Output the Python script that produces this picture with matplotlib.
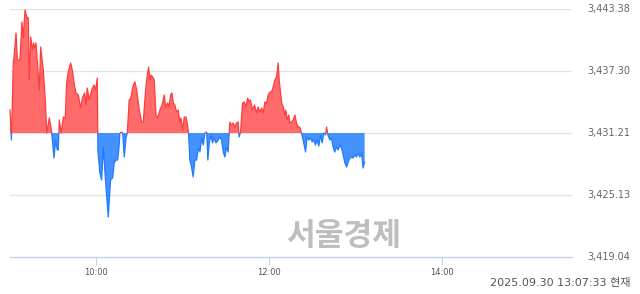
import numpy as np
import matplotlib
matplotlib.use("Agg")
import matplotlib.pyplot as plt
from matplotlib.patches import Rectangle

# previous close (baseline) and axis ticks
prev_close = 3431.21
y_ticks = [3419.04, 3425.13, 3431.21, 3437.30, 3443.38]
y_labels = ["3,419.04", "3,425.13", "3,431.21", "3,437.30", "3,443.38"]
x_ticks = [60, 180, 300]   # minutes after 09:00
x_labels = ["10:00", "12:00", "14:00"]
stamp = "2025.09.30 13:07:33 현재"

# intraday index, minutes after 09:00
minutes = [
    0, 1.0, 2.3, 2.8, 4.2, 5.1, 6.9, 8.3, 9.2, 10.4, 11.6, 12.7, 13.4, 14.4, 15.5, 16.4,
    17.1, 18.0, 18.9, 20.3, 21.3, 23.1, 24.5, 25.5, 27.3, 28.9, 30.5, 31.7, 32.8, 33.5,
    34.2, 35.6, 37.0, 38.4, 39.3, 40.4, 42.1, 43.5, 44.4, 45.8, 47.4, 49.0, 50.4, 51.8,
    52.7, 53.6, 55.0, 56.7, 58.3, 59.4, 60.6, 61.0, 62.4, 63.6, 64.7, 66.6, 68.2, 69.8,
    71.2, 72.3, 73.5, 74.7, 75.6, 76.3, 77.5, 78.2, 79.3, 80.5, 81.4, 82.7, 83.9, 85.5,
    86.7, 87.9, 89.7, 91.3, 92.5, 93.6, 94.8, 96.2, 97.1, 98.0, 99.4, 100.1, 101.3, 102.5,
    104.0, 105.6, 107.0, 108.0, 109.4, 110.3, 111.5, 112.4, 113.3, 114.4, 115.6, 116.7,
    117.9, 118.6, 119.8, 120.9, 122.1, 123.0, 123.9, 124.8, 126.0, 127.1, 128.3, 129.5,
    130.6, 131.8, 133.0, 134.1, 135.3, 136.5, 137.3, 138.3, 139.4, 140.6, 141.5, 142.9,
    144.5, 145.7, 146.8, 148.0, 149.1, 150.3, 151.4, 152.1, 152.6, 153.7, 154.9, 156.1,
    157.2, 158.3, 159.0, 160.0, 161.4, 162.5, 163.7, 164.9, 166.0, 166.9, 168.3, 169.7,
    171.1, 172.2, 173.4, 174.6, 175.7, 176.9, 178.0, 179.2, 180.3, 181.5, 182.6, 183.8,
    185.0, 186.1, 186.8, 187.8, 188.5, 189.6, 190.7, 191.4, 192.3, 193.5, 194.2, 195.4,
    196.5, 197.7, 198.8, 200.0, 201.1, 202.3, 203.4, 205.1, 206.2, 207.4, 208.6, 209.7,
    210.9, 212.0, 213.1, 214.3, 215.5, 216.6, 217.8, 219.0, 219.7, 220.6, 222.0, 223.1,
    224.2, 225.4, 226.6, 227.7, 228.9, 230.1, 231.2, 232.4, 233.6, 234.7, 235.8, 237.0,
    238.1, 239.3, 240.5, 241.6, 242.8, 244.0, 245.0, 246.1,
]
index = [
    3433.47, 3430.52, 3438.20, 3438.69, 3441.05, 3438.39, 3438.39, 3442.13, 3440.56, 3443.31,
    3442.62, 3442.53, 3436.43, 3440.66, 3439.38, 3440.07, 3439.57, 3440.07, 3438.39, 3435.44,
    3439.67, 3437.41, 3434.46, 3431.21, 3432.69, 3431.31, 3428.75, 3430.52, 3429.54, 3429.54,
    3432.49, 3431.21, 3432.78, 3432.69, 3436.13, 3437.21, 3438.10, 3437.21, 3436.13, 3435.15,
    3434.95, 3433.67, 3434.75, 3435.15, 3433.97, 3435.64, 3434.46, 3435.44, 3435.93, 3435.44,
    3436.62, 3429.50, 3427.27, 3426.59, 3429.83, 3425.90, 3422.94, 3426.59, 3426.78, 3428.26,
    3428.55, 3428.55, 3429.73, 3431.21, 3431.31, 3431.21, 3428.85, 3430.72, 3431.21, 3434.46,
    3434.65, 3435.93, 3436.23, 3435.44, 3433.47, 3432.29, 3432.29, 3434.46, 3436.43, 3437.70,
    3436.43, 3436.92, 3436.62, 3436.43, 3432.98, 3432.69, 3433.47, 3433.97, 3434.95, 3433.77,
    3434.16, 3433.77, 3434.95, 3435.15, 3434.16, 3433.97, 3433.28, 3433.47, 3432.19, 3432.69,
    3431.51, 3432.78, 3432.78, 3432.19, 3431.21, 3428.55, 3427.86, 3426.88, 3428.55, 3428.55,
    3429.73, 3429.34, 3430.72, 3430.03, 3431.21, 3431.31, 3428.55, 3430.23, 3431.01, 3430.23,
    3430.72, 3430.23, 3430.52, 3430.82, 3430.52, 3429.34, 3428.85, 3429.83, 3429.34, 3431.21,
    3432.29, 3432.00, 3432.19, 3431.80, 3432.19, 3432.29, 3430.82, 3431.31, 3434.16, 3434.26,
    3433.77, 3434.65, 3434.26, 3434.46, 3433.47, 3433.97, 3433.18, 3433.77, 3433.28, 3433.67,
    3433.18, 3434.26, 3434.16, 3434.95, 3435.24, 3435.24, 3435.74, 3436.43, 3436.72, 3438.10,
    3436.43, 3435.15, 3434.16, 3433.77, 3432.98, 3433.47, 3432.49, 3432.98, 3432.19, 3432.29,
    3432.49, 3432.98, 3432.19, 3431.80, 3431.80, 3431.21, 3430.52, 3429.34, 3430.82, 3430.52,
    3430.72, 3430.32, 3430.52, 3430.03, 3430.52, 3429.93, 3431.01, 3430.23, 3431.21, 3431.01,
    3431.80, 3431.01, 3430.52, 3430.72, 3429.83, 3429.34, 3429.83, 3429.54, 3430.03, 3429.73,
    3429.05, 3428.26, 3427.86, 3428.36, 3428.75, 3428.85, 3428.75, 3429.05, 3428.85, 3429.24,
    3428.85, 3429.24, 3427.77, 3428.36,
]

t = np.array(minutes)
v = np.array(index)

up_fill, up_line = "#ff6b6b", "#ff3d3d"
dn_fill, dn_line = "#4592ff", "#1f7bff"

fig = plt.figure(figsize=(6.4, 2.94), dpi=100)
ax = fig.add_axes([10 / 640, 1 - 256.7 / 294, 562 / 640, 247.4 / 294])
ax.set_xlim(0, 390)
ax.set_ylim(y_ticks[0], y_ticks[-1])

for yt in y_ticks[1:]:
    ax.axhline(yt, color="#e3e3e3", lw=0.9, zorder=0)

ax.fill_between(t, v, prev_close, where=v >= prev_close, interpolate=True,
                color=up_fill, lw=0, zorder=2)
ax.fill_between(t, v, prev_close, where=v <= prev_close, interpolate=True,
                color=dn_fill, lw=0, zorder=2)

# same line, clipped above / below the previous close
top = ax.plot(t, v, color=up_line, lw=0.9, zorder=3, clip_on=True)[0]
top.set_clip_path(Rectangle((-10, prev_close), 500, 50, transform=ax.transData))
bot = ax.plot(t, v, color=dn_line, lw=0.9, zorder=3)[0]
bot.set_clip_path(Rectangle((-10, prev_close - 50), 500, 50, transform=ax.transData))

for s in ["top", "right", "left"]:
    ax.spines[s].set_visible(False)
ax.spines["bottom"].set_color("#c5d3ea")
ax.spines["bottom"].set_linewidth(1.0)

ax.set_xticks(x_ticks)
ax.set_xticklabels(x_labels)
ax.tick_params(axis="x", length=6, width=0.8, color="#c5d3ea", labelsize=6,
               labelcolor="#555555", pad=2)
ax.set_yticks([])

for yt, lab in zip(y_ticks, y_labels):
    ax.text(1.028, yt, lab, transform=ax.get_yaxis_transform(), ha="left", va="center",
            fontsize=7, color="#666666")

fig.text(344 / 640, 1 - 236 / 294, "서울경제", ha="center", va="center",
         fontsize=22.5, fontweight="bold", color="#bebebe", family="Noto Sans CJK KR")
fig.text(630 / 640, 1 - 283 / 294, stamp, ha="right", va="center", fontsize=8,
         color="#555555", family=["DejaVu Sans", "Noto Sans CJK KR"])

fig.savefig("out.png", dpi=100)
